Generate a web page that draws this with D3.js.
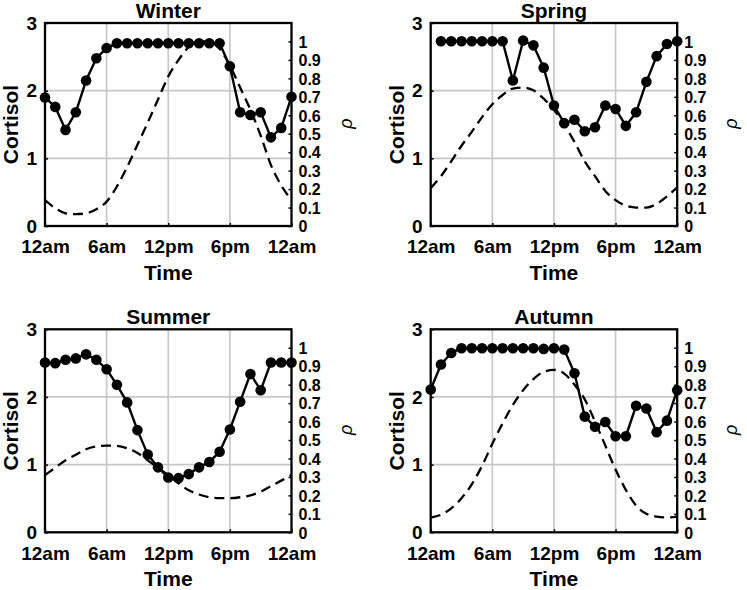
<!DOCTYPE html>
<html>
<head>
<meta charset="utf-8">
<script src="https://cdn.jsdelivr.net/npm/d3@7"></script>
<style>
  html, body { margin: 0; padding: 0; background: #fff; }
  svg { display: block; }
  text { font-family: "Liberation Sans", Arial, sans-serif; }
</style>
</head>
<body>
<svg id="chart" width="747" height="590"></svg>
<script>
// ---------------- DATA ----------------
const hours = [0,1,2,3,4,5,6,7,8,9,10,11,12,13,14,15,16,17,18,19,20,21,22,23,24];
const timeTicks = [0, 6, 12, 18, 24];
const timeTickLabels = ["12am", "6am", "12pm", "6pm", "12am"];
const cortisolTicks = [0, 1, 2, 3];
const rhoTicks = [0, 0.1, 0.2, 0.3, 0.4, 0.5, 0.6, 0.7, 0.8, 0.9, 1];
const seasons = ["Winter", "Spring", "Summer", "Autumn"];

const winterCortisol = [1.90,1.76,1.42,1.68,2.15,2.48,2.63,2.70,2.70,2.70,2.70,2.70,2.70,2.70,2.70,2.70,2.70,2.70,2.36,1.68,1.64,1.68,1.31,1.45,1.91];
const springCortisol = [null,2.73,2.73,2.73,2.73,2.73,2.73,2.73,2.15,2.74,2.67,2.34,1.78,1.52,1.57,1.40,1.46,1.78,1.73,1.48,1.68,2.13,2.51,2.69,2.73];
const summerCortisol = [2.51,2.50,2.55,2.57,2.63,2.55,2.41,2.18,1.92,1.51,1.15,0.96,0.81,0.80,0.86,0.96,1.04,1.19,1.52,1.93,2.34,2.10,2.51,2.51,2.51];
const autumnCortisol = [2.11,2.48,2.65,2.72,2.72,2.72,2.72,2.72,2.72,2.72,2.72,2.71,2.72,2.70,2.35,1.71,1.56,1.63,1.42,1.42,1.87,1.83,1.48,1.65,2.10];

const winterRho = [0.14,0.096,0.069,0.064,0.069,0.091,0.132,0.214,0.32,0.44,0.56,0.685,0.81,0.90,0.97,1.0,1.0,0.96,0.87,0.75,0.63,0.49,0.33,0.22,0.14];
const springRho = [0.205,0.27,0.35,0.435,0.51,0.59,0.66,0.71,0.745,0.75,0.735,0.69,0.63,0.55,0.455,0.35,0.27,0.19,0.14,0.11,0.10,0.10,0.12,0.16,0.21];
const summerRho = [0.31,0.35,0.39,0.42,0.45,0.465,0.47,0.468,0.455,0.43,0.39,0.35,0.31,0.265,0.228,0.205,0.19,0.185,0.185,0.19,0.20,0.22,0.25,0.28,0.31];
const autumnRho = [0.08,0.095,0.13,0.185,0.26,0.36,0.48,0.59,0.69,0.77,0.83,0.87,0.88,0.86,0.80,0.72,0.60,0.47,0.34,0.23,0.145,0.10,0.085,0.08,0.085];

const cortisolSeries = [winterCortisol, springCortisol, summerCortisol, autumnCortisol];
const rhoSeries = [winterRho, springRho, summerRho, autumnRho];

// ---------------- LAYOUT ----------------
const svg = d3.select("#chart");
const W = 246.5, H = 203;
const origins = [[45, 23], [430.7, 23], [45, 329.3], [430.7, 329.3]];
const FONT = "Liberation Sans, Arial, sans-serif";

const x = d3.scaleLinear().domain([0, 24]).range([0, W]);
const yL = d3.scaleLinear().domain([0, 3]).range([H, 0]);
const yR = d3.scaleLinear().domain([0, 1.1]).range([H, 0]);

seasons.forEach((name, i) => {
  const [ox, oy] = origins[i];
  const g = svg.append("g").attr("transform", `translate(${ox},${oy})`);

  // grid
  g.append("g").selectAll("line").data(timeTicks.slice(1, -1)).join("line")
    .attr("x1", d => x(d)).attr("x2", d => x(d)).attr("y1", 0).attr("y2", H)
    .attr("stroke", "#c8c8c8").attr("stroke-width", 1.7);
  g.append("g").selectAll("line").data(cortisolTicks.slice(1, -1)).join("line")
    .attr("y1", d => yL(d)).attr("y2", d => yL(d)).attr("x1", 0).attr("x2", W)
    .attr("stroke", "#c8c8c8").attr("stroke-width", 1.7);

  // dashed rho
  const rho = rhoSeries[i];
  const rline = d3.line().x((d, j) => x(hours[j])).y(d => yR(d)).curve(d3.curveMonotoneX);
  g.append("path").datum(rho).attr("d", rline)
    .attr("fill", "none").attr("stroke", "#000").attr("stroke-width", 2.3)
    .attr("stroke-dasharray", "10,6");

  // cortisol line + markers
  const cort = cortisolSeries[i].map((v, j) => ({ h: hours[j], v })).filter(d => d.v !== null);
  const cline = d3.line().x(d => x(d.h)).y(d => yL(d.v));
  g.append("path").datum(cort).attr("d", cline)
    .attr("fill", "none").attr("stroke", "#000").attr("stroke-width", 2.4);
  g.append("g").selectAll("circle").data(cort).join("circle")
    .attr("cx", d => x(d.h)).attr("cy", d => yL(d.v)).attr("r", 5.3).attr("fill", "#000");

  // axes
  const ax = g.append("g").attr("transform", `translate(0,${H})`)
    .call(d3.axisBottom(x).tickValues(timeTicks).tickFormat((d, k) => timeTickLabels[k])
      .tickSizeInner(-3).tickSizeOuter(0).tickPadding(14));
  const al = g.append("g")
    .call(d3.axisLeft(yL).tickValues(cortisolTicks).tickFormat(d3.format("d"))
      .tickSizeInner(-3).tickSizeOuter(0).tickPadding(8));
  const ar = g.append("g").attr("transform", `translate(${W},0)`)
    .call(d3.axisRight(yR).tickValues(rhoTicks).tickFormat(d => d === 0 || d === 1 ? String(d) : d3.format(".1f")(d))
      .tickSizeInner(-3).tickSizeOuter(0).tickPadding(7));
  [ax, al, ar].forEach(a => {
    a.select(".domain").remove();
    a.selectAll("line").attr("stroke", "#000").attr("stroke-width", 1.5);
    a.selectAll("text").attr("fill", "#000").style("font-family", FONT)
      .style("font-size", "19px").style("font-weight", "bold");
  });
  ar.selectAll("text").style("font-size", "16px").attr("dy", "0.36em");

  // box
  g.append("rect").attr("x", 0).attr("y", 0).attr("width", W).attr("height", H)
    .attr("fill", "none").attr("stroke", "#000").attr("stroke-width", 2.3);

  // labels
  g.append("text").attr("x", W / 2).attr("y", -5).attr("text-anchor", "middle")
    .style("font-family", FONT).style("font-size", "21px").style("font-weight", "bold").text(name);
  g.append("text").attr("x", W / 2).attr("y", H + 54).attr("text-anchor", "middle")
    .style("font-family", FONT).style("font-size", "21px").style("font-weight", "bold").text("Time");
  g.append("text").attr("transform", `translate(${-26.7},${H / 2}) rotate(-90)`).attr("text-anchor", "middle")
    .style("font-family", FONT).style("font-size", "21px").style("font-weight", "bold").text("Cortisol");
  g.append("text").attr("transform", `translate(${W + 60},${H / 2 - 1}) rotate(-90)`).attr("text-anchor", "middle")
    .style("font-family", FONT).style("font-size", "18px").style("font-style", "italic").text("ρ");
});
</script>
</body>
</html>
